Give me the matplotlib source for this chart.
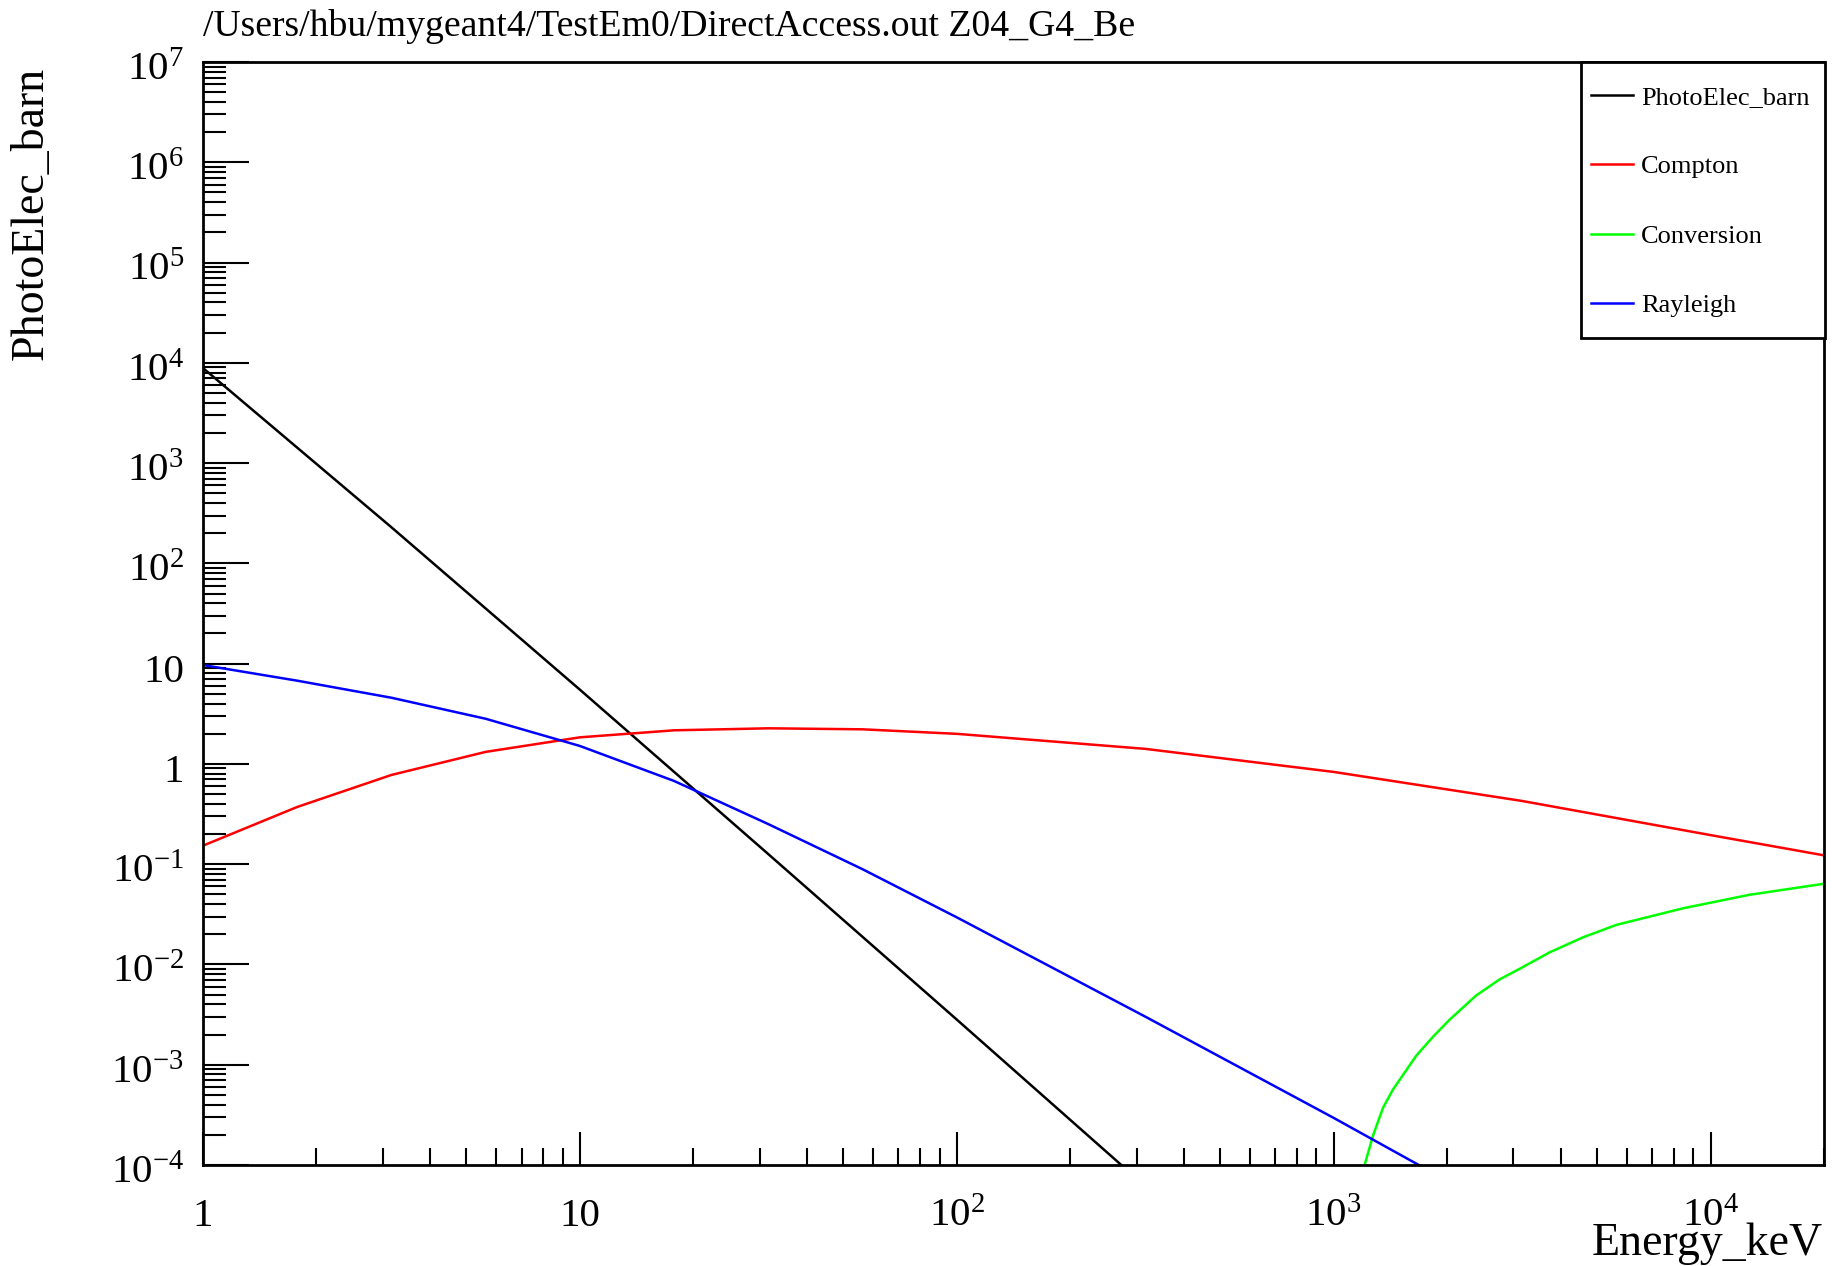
import matplotlib
matplotlib.use('Agg')
import matplotlib.pyplot as plt
from matplotlib.ticker import LogLocator, FuncFormatter, NullFormatter
from matplotlib.transforms import ScaledTranslation
from matplotlib.patches import Rectangle
import numpy as np

# ROOT-like serif look
plt.rcParams['font.family'] = ['Liberation Serif', 'DejaVu Serif']
plt.rcParams['mathtext.fontset'] = 'custom'
plt.rcParams['mathtext.rm'] = 'Liberation Serif'
plt.rcParams['mathtext.it'] = 'Liberation Serif:italic'

# ── data (energy in keV, cross section in barn) ──
pe_energy = [1, 3.162, 10, 31.62, 100, 316]
pe_barn = [8870, 229, 5.50, 0.126, 0.00282, 6.17e-5]

compton_energy = [1, 1.778, 3.162, 5.623, 10, 17.78, 31.62, 56.23, 100, 316.2,
                  1000, 3162, 10000, 20000]
compton_barn = [0.153, 0.372, 0.776, 1.318, 1.841, 2.163, 2.265, 2.213, 1.995,
                1.413, 0.832, 0.427, 0.195, 0.1225]

conv_energy = [1148, 1208, 1274, 1352, 1435, 1656, 1837, 2032, 2388, 2754,
               3162, 3741, 4581, 5623, 8453, 12680, 20000]
conv_barn = [4.47e-5, 1.0e-4, 2.0e-4, 3.72e-4, 5.62e-4, 1.23e-3, 1.91e-3,
             2.82e-3, 4.90e-3, 7.08e-3, 9.33e-3, 0.0132, 0.0186, 0.0248,
             0.0363, 0.0495, 0.0638]

rayl_energy = [1, 1.778, 3.162, 5.623, 10, 17.78, 31.62, 56.23, 100, 316.2,
               1000, 1778, 1995]
rayl_barn = [9.68, 6.76, 4.57, 2.82, 1.51, 0.676, 0.251, 0.0891, 0.0295,
             0.00302, 2.95e-4, 8.91e-5, 7.08e-5]

series_names = ['PhotoElec_barn', 'Compton', 'Conversion', 'Rayleigh']
series_colors = ['#000000', '#ff0000', '#00ff00', '#0000ff']

title = '/Users/hbu/mygeant4/TestEm0/DirectAccess.out Z04_G4_Be'

# ── figure ──
fig = plt.figure(figsize=(18.32, 12.66), dpi=100)
ax = fig.add_axes([203/1832, 101/1266, 1621/1832, 1103/1266])

for e, v, name, c in zip([pe_energy, compton_energy, conv_energy, rayl_energy],
                         [pe_barn, compton_barn, conv_barn, rayl_barn],
                         series_names, series_colors):
    ax.plot(e, v, color=c, lw=1.8, label=name)

ax.set_xscale('log')
ax.set_yscale('log')
ax.set_xlim(1, 2e4)
ax.set_ylim(1e-4, 1e7)


def root_log(v, pos):
    n = int(round(np.log10(v)))
    if n == 0:
        return '1'
    if n == 1:
        return '10'
    return r'$\mathregular{10^{%d}}$' % n


for axis in (ax.xaxis, ax.yaxis):
    axis.set_major_locator(LogLocator(base=10, numticks=30))
    axis.set_minor_locator(LogLocator(base=10, subs=np.arange(2, 10), numticks=200))
    axis.set_major_formatter(FuncFormatter(root_log))
    axis.set_minor_formatter(NullFormatter())

for s in ax.spines.values():
    s.set_linewidth(2)

ax.tick_params(which='both', direction='in', top=False, right=False,
               width=1.5, labelsize=29.5)
ax.tick_params(axis='x', which='major', length=23.8, pad=44)
ax.tick_params(axis='x', which='minor', length=12)
ax.tick_params(axis='y', which='major', length=33, pad=13.7)
ax.tick_params(axis='y', which='minor', length=16.5)

# ROOT puts every label on a common baseline
for lab in ax.get_xticklabels():
    lab.set_va('baseline')
ydown = ScaledTranslation(0, -0.18, fig.dpi_scale_trans)
for lab in ax.get_yticklabels():
    lab.set_va('baseline')
    lab.set_transform(lab.get_transform() + ydown)

# axis titles
ax.set_xlabel('Energy_keV', fontsize=33, loc='right')
ax.xaxis.set_label_coords(0.999, -0.0816)
ax.xaxis.label.set_va('baseline')
ax.set_ylabel('PhotoElec_barn', fontsize=33, loc='top')
ax.yaxis.set_label_coords(-0.0925, 0.9955)

fig.text(203/1832, 1 - 36/1266, title, fontsize=27.2, ha='left', va='baseline')

# legend: ROOT TLegend box in the upper right corner
box = Rectangle((0.8501, 0.7501), 0.1505, 0.2499, transform=ax.transAxes,
                facecolor='white', edgecolor='black', lw=2, zorder=4,
                clip_on=False)
ax.add_patch(box)
leg = ax.legend(loc='upper left', bbox_to_anchor=(0.8563, 0.9787),
                borderaxespad=0, borderpad=0, frameon=False, fontsize=19,
                handlelength=1.59, handletextpad=0.3, labelspacing=1.74)
leg.set_zorder(5)
for h in leg.get_lines():
    h.set_linewidth(1.8)

fig.savefig('out.png', dpi=100, facecolor='white')
